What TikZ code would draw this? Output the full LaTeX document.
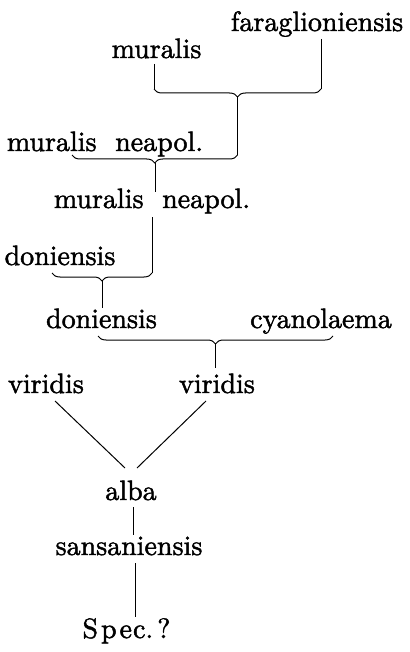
\documentclass[tikz,border=0pt]{standalone}
\usetikzlibrary{decorations.pathreplacing}
\font\reffont="[lmroman10-regular.otf]:embolden=1.6" at 28pt
\begin{document}
\begin{tikzpicture}[x=1pt,y=-1pt,
  lbl/.style={inner sep=0pt,anchor=base,font=\reffont},
  ln/.style={line width=1pt},
  brc/.style={ln,decorate,decoration={brace,mirror,amplitude=8pt}}]
\useasboundingbox (0,0) rectangle (409,652);
% labels
\node[lbl] (fara) at (317,31) {faraglioniensis};
\node[lbl] (mur) at (156.5,58) {muralis};
\node[lbl] (mn1) at (105,151) {muralis\ \ neapol.};
\node[lbl] (mn2) at (152,208) {muralis\ \ neapol.};
\node[lbl] (don1) at (60,265) {doniensis};
\node[lbl] (don2) at (101.5,328) {doniensis};
\node[lbl] (cya) at (321,328) {cyanolaema};
\node[lbl] (vir1) at (46,393) {viridis};
\node[lbl] (vir2) at (217,393) {viridis};
\node[lbl] (alba) at (131,500) {alba};
\node[lbl] (sans) at (129,555) {sansaniensis};
\node[lbl] (spec) at (126.5,638) {S\hspace{3pt}p\hspace{3pt}e\hspace{1pt}c.\hspace{4pt}?};
% brace coordinates
\coordinate (b1l) at (154,89); \coordinate (b1r) at (321,89); \coordinate (b1t) at (237.5,97);
\coordinate (b2l) at (72,155); \coordinate (b2r) at (237.5,155); \coordinate (b2t) at (155,163);
\coordinate (b3l) at (52,273); \coordinate (b3r) at (152,273); \coordinate (b3t) at (102,281);
\coordinate (b4l) at (98,336); \coordinate (b4r) at (333,336); \coordinate (b4t) at (215.5,344);
% braces
\draw[brc] (b1l) -- (b1r);
\draw[brc] (b2l) -- (b2r);
\draw[brc] (b3l) -- (b3r);
\draw[brc] (b4l) -- (b4r);
% verticals
\draw[ln] (b1l |- 0,64) -- (b1l);
\draw[ln] (b1r |- 0,39) -- (b1r);
\draw[ln] (b1t) -- (b2r);
\draw[ln] (b2t) -- (b2t |- 0,192);
\draw[ln] (b3r |- 0,217) -- (b3r);
\draw[ln] (b3t) -- (b3t |- 0,308);
\draw[ln] (b4t) -- (b4t |- 0,368);
% diagonals
\coordinate (d1a) at (55,401); \coordinate (d1b) at (125,468);
\coordinate (d2a) at (206,401); \coordinate (d2b) at (137,468);
\draw[ln] (d1a) -- (d1b);
\draw[ln] (d2a) -- (d2b);
% lower verticals
\coordinate (v1a) at (133,507); \coordinate (v1b) at (133,535);
\coordinate (v2a) at (135,563); \coordinate (v2b) at (135,617);
\draw[ln] (v1a) -- (v1b);
\draw[ln] (v2a) -- (v2b);
\end{tikzpicture}
\end{document}
